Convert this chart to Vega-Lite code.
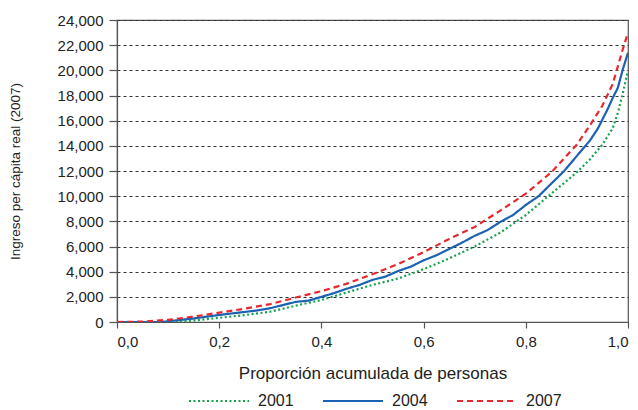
{
  "$schema": "https://vega.github.io/schema/vega-lite/v6.json",
  "autosize": {"type": "none"},
  "padding": {"left": 117, "top": 20, "right": 10, "bottom": 88},
  "width": 511,
  "height": 302,
  "background": "white",
  "config": {
    "font": "Liberation Sans",
    "view": {"stroke": "#555555", "strokeWidth": 1.2},
    "axis": {"labelFont": "Liberation Sans", "titleFont": "Liberation Sans", "labelFontSize": 15, "labelColor": "#222", "titleColor": "#222", "titleFontWeight": "normal", "domainColor": "#555555", "tickColor": "#555555", "domainWidth": 1.2, "tickWidth": 1.2}
  },
  "datasets": {
    "d": [
      {"x": 0, "y": 0, "year": "2001"},
      {"x": 0.12, "y": 0, "year": "2001"},
      {"x": 0.15, "y": 120, "year": "2001"},
      {"x": 0.2, "y": 330, "year": "2001"},
      {"x": 0.25, "y": 550, "year": "2001"},
      {"x": 0.3, "y": 820, "year": "2001"},
      {"x": 0.35, "y": 1300, "year": "2001"},
      {"x": 0.4, "y": 1750, "year": "2001"},
      {"x": 0.45, "y": 2350, "year": "2001"},
      {"x": 0.5, "y": 2950, "year": "2001"},
      {"x": 0.55, "y": 3450, "year": "2001"},
      {"x": 0.6, "y": 4200, "year": "2001"},
      {"x": 0.65, "y": 5050, "year": "2001"},
      {"x": 0.7, "y": 6000, "year": "2001"},
      {"x": 0.75, "y": 7100, "year": "2001"},
      {"x": 0.8, "y": 8500, "year": "2001"},
      {"x": 0.85, "y": 10200, "year": "2001"},
      {"x": 0.9, "y": 11900, "year": "2001"},
      {"x": 0.925, "y": 12900, "year": "2001"},
      {"x": 0.95, "y": 14100, "year": "2001"},
      {"x": 0.97, "y": 15400, "year": "2001"},
      {"x": 0.98, "y": 16600, "year": "2001"},
      {"x": 0.99, "y": 18200, "year": "2001"},
      {"x": 1.0, "y": 20000, "year": "2001"},

      {"x": 0, "y": 0, "year": "2004"},
      {"x": 0.087, "y": 0, "year": "2004"},
      {"x": 0.1, "y": 60, "year": "2004"},
      {"x": 0.125, "y": 170, "year": "2004"},
      {"x": 0.15, "y": 280, "year": "2004"},
      {"x": 0.175, "y": 420, "year": "2004"},
      {"x": 0.2, "y": 560, "year": "2004"},
      {"x": 0.225, "y": 680, "year": "2004"},
      {"x": 0.25, "y": 800, "year": "2004"},
      {"x": 0.275, "y": 920, "year": "2004"},
      {"x": 0.3, "y": 1100, "year": "2004"},
      {"x": 0.325, "y": 1350, "year": "2004"},
      {"x": 0.35, "y": 1600, "year": "2004"},
      {"x": 0.375, "y": 1700, "year": "2004"},
      {"x": 0.4, "y": 2000, "year": "2004"},
      {"x": 0.425, "y": 2300, "year": "2004"},
      {"x": 0.45, "y": 2650, "year": "2004"},
      {"x": 0.475, "y": 2950, "year": "2004"},
      {"x": 0.5, "y": 3350, "year": "2004"},
      {"x": 0.525, "y": 3600, "year": "2004"},
      {"x": 0.55, "y": 4050, "year": "2004"},
      {"x": 0.575, "y": 4400, "year": "2004"},
      {"x": 0.6, "y": 4900, "year": "2004"},
      {"x": 0.625, "y": 5300, "year": "2004"},
      {"x": 0.65, "y": 5800, "year": "2004"},
      {"x": 0.675, "y": 6300, "year": "2004"},
      {"x": 0.7, "y": 6850, "year": "2004"},
      {"x": 0.725, "y": 7300, "year": "2004"},
      {"x": 0.75, "y": 7950, "year": "2004"},
      {"x": 0.775, "y": 8500, "year": "2004"},
      {"x": 0.8, "y": 9300, "year": "2004"},
      {"x": 0.825, "y": 10000, "year": "2004"},
      {"x": 0.85, "y": 11000, "year": "2004"},
      {"x": 0.875, "y": 12000, "year": "2004"},
      {"x": 0.9, "y": 13200, "year": "2004"},
      {"x": 0.925, "y": 14400, "year": "2004"},
      {"x": 0.94, "y": 15300, "year": "2004"},
      {"x": 0.95, "y": 16100, "year": "2004"},
      {"x": 0.96, "y": 16900, "year": "2004"},
      {"x": 0.97, "y": 17800, "year": "2004"},
      {"x": 0.98, "y": 18600, "year": "2004"},
      {"x": 0.99, "y": 20100, "year": "2004"},
      {"x": 1.0, "y": 21400, "year": "2004"},

      {"x": 0, "y": 0, "year": "2007"},
      {"x": 0.05, "y": 30, "year": "2007"},
      {"x": 0.1, "y": 170, "year": "2007"},
      {"x": 0.15, "y": 430, "year": "2007"},
      {"x": 0.2, "y": 740, "year": "2007"},
      {"x": 0.25, "y": 1060, "year": "2007"},
      {"x": 0.3, "y": 1420, "year": "2007"},
      {"x": 0.35, "y": 1950, "year": "2007"},
      {"x": 0.4, "y": 2450, "year": "2007"},
      {"x": 0.45, "y": 3050, "year": "2007"},
      {"x": 0.5, "y": 3800, "year": "2007"},
      {"x": 0.55, "y": 4600, "year": "2007"},
      {"x": 0.6, "y": 5550, "year": "2007"},
      {"x": 0.65, "y": 6600, "year": "2007"},
      {"x": 0.7, "y": 7550, "year": "2007"},
      {"x": 0.75, "y": 8850, "year": "2007"},
      {"x": 0.8, "y": 10200, "year": "2007"},
      {"x": 0.85, "y": 11900, "year": "2007"},
      {"x": 0.9, "y": 14100, "year": "2007"},
      {"x": 0.925, "y": 15600, "year": "2007"},
      {"x": 0.95, "y": 17200, "year": "2007"},
      {"x": 0.97, "y": 18900, "year": "2007"},
      {"x": 0.98, "y": 20300, "year": "2007"},
      {"x": 0.99, "y": 21700, "year": "2007"},
      {"x": 1.0, "y": 23000, "year": "2007"}
    ]
  },
  "data": {"name": "d"},
  "mark": {"type": "line", "strokeWidth": 2.2, "clip": true},
  "encoding": {
    "x": {
      "field": "x", "type": "quantitative",
      "scale": {"domain": [0, 1], "nice": false},
      "axis": {"values": [0, 0.2, 0.4, 0.6, 0.8, 1.0], "labelExpr": "replace(format(datum.value, '.1f'), '.', ',')", "title": "Proporción acumulada de personas", "titleFontSize": 17, "grid": false, "tickSize": 6, "labelPadding": 6, "titlePadding": 16}
    },
    "y": {
      "field": "y", "type": "quantitative",
      "scale": {"domain": [0, 24000], "nice": false},
      "axis": {"values": [0, 2000, 4000, 6000, 8000, 10000, 12000, 14000, 16000, 18000, 20000, 22000, 24000], "format": ",d", "title": "Ingreso per cápita real (2007)", "titleFontSize": 13.5, "grid": true, "gridColor": "#333333", "gridDash": [3, 3], "gridWidth": 1, "tickSize": 8, "labelPadding": 6, "titlePadding": 35}
    },
    "color": {
      "field": "year", "type": "nominal",
      "scale": {"domain": ["2001", "2004", "2007"], "range": ["#12a34c", "#1b62b3", "#e8272e"]},
      "legend": {"title": null, "orient": "none", "legendX": 71, "legendY": 350, "direction": "horizontal", "symbolType": "stroke", "symbolSize": 3600, "symbolStrokeWidth": 2, "labelFontSize": 16, "labelFont": "Liberation Sans", "labelColor": "#222", "columnPadding": 25, "labelOffset": 8}
    },
    "strokeDash": {
      "field": "year", "type": "nominal",
      "scale": {"domain": ["2001", "2004", "2007"], "range": [[2, 2.5], [1, 0], [6, 4]]},
      "legend": {"title": null, "orient": "none", "legendX": 71, "legendY": 350, "direction": "horizontal", "symbolType": "stroke", "symbolSize": 3600, "symbolStrokeWidth": 2, "labelFontSize": 16, "labelFont": "Liberation Sans", "labelColor": "#222", "columnPadding": 25, "labelOffset": 8}
    }
  }
}
